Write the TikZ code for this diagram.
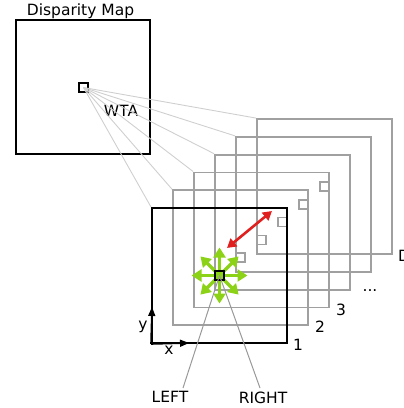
\documentclass[tikz,border=0pt]{standalone}
\usepackage{fontspec}
\setmainfont{DejaVu Sans}
\usetikzlibrary{arrows.meta}
\definecolor{framegray}{HTML}{A0A0A0}
\definecolor{raygray}{HTML}{CFCFCF}
\definecolor{leadgray}{HTML}{999999}
\definecolor{dirgreen}{HTML}{8CD317}
\definecolor{dispred}{HTML}{E0201E}
\tikzset{
  costframe/.style={draw=framegray, line width=1.8pt, minimum width=135pt, minimum height=135pt, inner sep=0pt},
  frontframe/.style={draw=black, line width=2pt, minimum width=135pt, minimum height=135pt, inner sep=0pt},
  pixbox/.style={draw=framegray, line width=1.5pt, minimum size=9pt, inner sep=0pt},
  pixfront/.style={draw=black, line width=1.8pt, minimum size=9pt, inner sep=0pt},
  ray/.style={draw=raygray, line width=0.9pt},
  lead/.style={draw=leadgray, line width=1pt},
  dirarrow/.style={draw=dirgreen, line width=3.2pt, -{Triangle[width=12pt,length=10pt]}},
  axis/.style={draw=black, line width=1.6pt, -{Triangle[width=7pt,length=9pt]}},
  lbl/.style={inner sep=0pt, text=black}
}
\begin{document}
\begin{tikzpicture}[x=1pt, y=-1pt, font=\fontsize{15.5}{18}\selectfont]
\useasboundingbox (0,0) rectangle (404,408);

% disparity map and its winner pixel
\node[draw=black, line width=2pt, minimum size=134pt, inner sep=0pt] (dmap) at (83,87) {};
\node[pixfront] (dpix) at (83.5,87.5) {};
\node[lbl, anchor=base] (dtitle) at (80.5,15) {Disparity Map};
\node[lbl, anchor=base] (wta) at (121,116) {WTA};

% stack of cost slices, back to front
\foreach \i in {5,4,3,2,1} {
  \node[costframe] (f\i) at ({219.5+21*\i},{275.5-17.8*\i}) {};
  \node[pixbox] (s\i) at (f\i.center) {};
}
\node[frontframe] (f0) at (219.5,275.5) {};

% rays from the disparity pixel to each slice
\foreach \i in {0,...,5} {
  \draw[ray] (dpix.center) -- (f\i.north west);
}

% slice labels
\node[lbl, anchor=west] (l1) at ([xshift=5pt,yshift=-1pt]f0.south east) {1};
\node[lbl, anchor=west] (l2) at ([xshift=6pt,yshift=-1pt]f1.south east) {2};
\node[lbl, anchor=west] (l3) at ([xshift=6pt,yshift=-2pt]f2.south east) {3};
\node[lbl, anchor=base] (ldots) at (370,291) {...};
\node[lbl, anchor=west] (lD) at ([xshift=5pt,yshift=-1pt]f5.south east) {D};

% image axes
\coordinate (ytip) at (152,307);
\coordinate (xtip) at (189,343);
\draw[axis] (f0.south west) -- (ytip);
\draw[axis] (f0.south west) -- (xtip);
\node[lbl] (ylab) at (143,327) {y};
\node[lbl] (xlab) at (169,350) {x};

% neighbourhood directions around the reference pixel
\coordinate (pc) at (219.5,275.5);
\foreach \a in {0,90,180,270} {
  \draw[dirarrow] (pc) -- ++(\a:28);
}
\foreach \a in {45,135,225,315} {
  \draw[dirarrow] (pc) -- ++(\a:27);
}
\node[pixfront] (s0) at (pc) {};

% disparity search direction
\coordinate (ra) at (227,248);
\coordinate (rb) at (272,211);
\draw[draw=dispred, line width=2.6pt, {Triangle[width=10pt,length=9pt]}-{Triangle[width=10pt,length=9pt]}] (ra) -- (rb);

% left and right images
\node[lbl, anchor=base] (left) at (170,402) {LEFT};
\node[lbl, anchor=base] (right) at (263,403) {RIGHT};
\coordinate (lend) at (183,388);
\coordinate (rend) at (260,388);
\draw[lead] (s0.center) -- (lend);
\draw[lead] (s0.center) -- (rend);
\end{tikzpicture}
\end{document}
